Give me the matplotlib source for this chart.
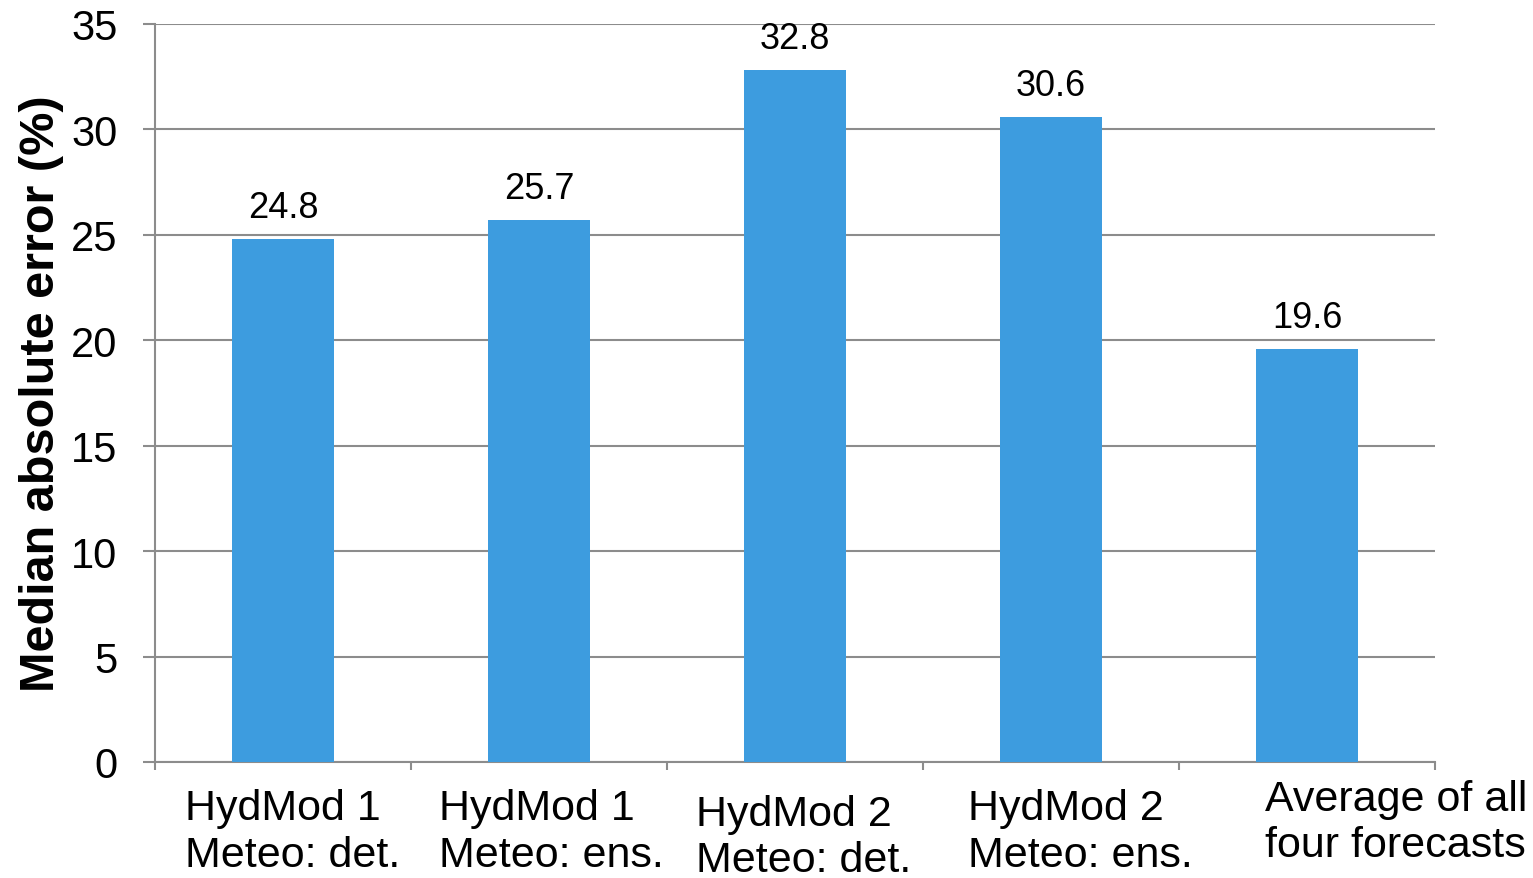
#!/usr/bin/env python3

import numpy as np
import matplotlib.pyplot as plt
from matplotlib.transforms import ScaledTranslation

plt.rcParams["font.family"] = ["Liberation Sans", "DejaVu Sans"]

categories = [
    "HydMod 1\nMeteo: det.",
    "HydMod 1\nMeteo: ens.",
    "HydMod 2\nMeteo: det.",
    "HydMod 2\nMeteo: ens.",
    "Average of all\nfour forecasts",
]
mae = [24.8, 25.7, 32.8, 30.6, 19.6]
yticks = [0, 5, 10, 15, 20, 25, 30, 35]

BAR = "#3d9cdf"
GRID = "#8c8c8c"


def main():
    fig = plt.figure(figsize=(15.33, 8.79), dpi=100)
    ax = fig.add_axes([155 / 1533, 1 - 763 / 879, 1280 / 1533, 738 / 879])

    x = np.arange(len(categories))
    bars = ax.bar(x, mae, width=0.4, color=BAR, zorder=3)
    for b, v in zip(bars, mae):
        ax.annotate(f"{v:.1f}", (b.get_x() + b.get_width() / 2, v),
                    xytext=(0, 10), textcoords="offset points",
                    ha="center", va="bottom", fontsize=26)

    ax.set_xlim(-0.5, len(categories) - 0.5)
    ax.set_ylim(0, 35)
    ax.set_yticks(yticks)
    ax.yaxis.grid(True, color=GRID, lw=1.5, zorder=0)
    ax.tick_params(axis="y", labelsize=30, length=9, width=1.5, color=GRID, pad=18)

    # category labels centred under the bars, boundary ticks between them
    ax.set_xticks(x)
    ax.set_xticklabels(categories, fontsize=31, linespacing=1.2,
                       ha="center", multialignment="left")
    ax.tick_params(axis="x", which="major", length=0, pad=19)
    ax.set_xticks(np.arange(-0.5, len(categories)), minor=True)
    ax.tick_params(axis="x", which="minor", length=6, width=1.5, color=GRID)

    # small per-label nudges (points)
    shifts = [(7, 0), (9, 0), (6, -4), (21, 0), (64, 7)]
    for lab, (dx, dy) in zip(ax.get_xticklabels(), shifts):
        lab.set_transform(lab.get_transform() +
                          ScaledTranslation(dx / 72, dy / 72, fig.dpi_scale_trans))

    for s in ("top", "right"):
        ax.spines[s].set_visible(False)
    for s in ("left", "bottom"):
        ax.spines[s].set_color(GRID)
        ax.spines[s].set_linewidth(1.5)

    ax.set_ylabel("Median absolute error (%)", fontsize=35, fontweight="bold")
    ax.yaxis.set_label_coords(-0.071, 0.5)

    fig.savefig("out.png", dpi=100)


if __name__ == "__main__":
    main()
